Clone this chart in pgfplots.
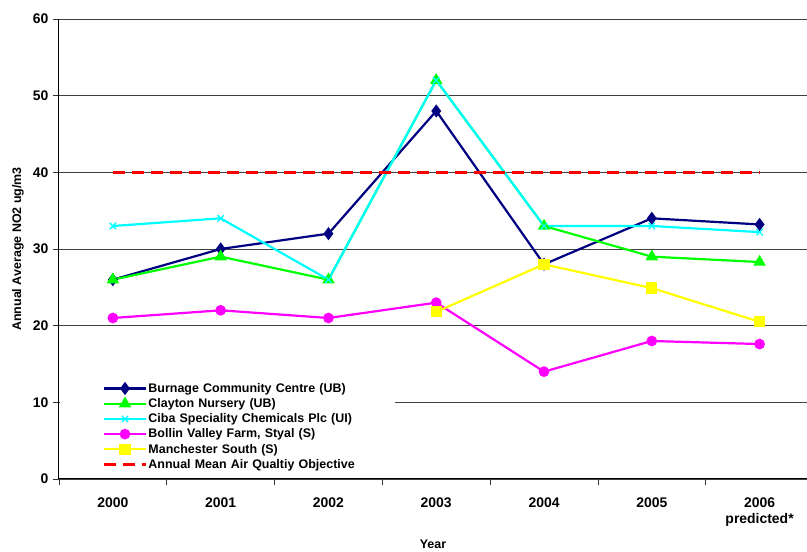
\documentclass[border=0pt]{standalone}
\usepackage{fontspec}
\setmainfont{Liberation Sans}
\usepackage{pgfplots}
\pgfplotsset{compat=1.18}
\definecolor{navyc}{RGB}{0,0,128}
\definecolor{greenc}{RGB}{0,255,0}
\definecolor{cyanc}{RGB}{0,255,255}
\definecolor{magc}{RGB}{255,0,255}
\definecolor{yelc}{RGB}{255,255,0}
\definecolor{redc}{RGB}{255,0,0}
\begin{document}
\begin{tikzpicture}
\begin{axis}[
  name=ax,
  scale only axis,
  width=748bp, height=460bp,
  xmin=-0.5, xmax=6.44,
  ymin=0, ymax=60,
  axis lines*=left,
  axis line style={black, line width=1bp},
  ytick={0,10,...,60},
  ymajorgrids,
  major grid style={black!75, line width=0.8bp},
  xtick={0,...,6},
  xticklabels={2000,2001,2002,2003,2004,2005,{2006\\predicted*}},
  xticklabel style={align=center, font=\bfseries\fontsize{14}{16.5}\selectfont, yshift=-9bp},
  yticklabel style={font=\bfseries\fontsize{14}{16}\selectfont, xshift=-1bp},
  /pgf/number format/assume math mode=true,
  minor xtick={-0.5,0.5,...,5.5},
  major x tick style={draw=none},
  minor x tick style={black!80, line width=0.8bp},
  major y tick style={black!80, line width=0.8bp},
  tick align=outside,
  major tick length=6bp,
  minor tick length=6bp,
  xlabel={Year},
  xlabel style={font=\bfseries\fontsize{12.5}{14}\selectfont, at={(axis description cs:0.5,0)}, anchor=base, inner sep=0pt, yshift=-70bp},
  ylabel={Annual Average NO2 ug/m3},
  ylabel style={font=\bfseries\fontsize{12.5}{14}\selectfont, at={(axis description cs:0,0.5)}, anchor=center, yshift=41bp},
  clip=false,
  legend cell align=left,
  legend style={at={(0,0)}, anchor=south west, draw=none, fill=white,
    font=\bfseries\fontsize{12.5}{14}\selectfont,
    inner xsep=0bp, inner ysep=3bp, row sep=0.7bp,
    nodes={inner xsep=1bp},
    text width=245bp, xshift=0.8bp, yshift=4bp},
  legend image code/.code={%
    \path[draw=none] (0bp,0) -- (86bp,0);
    \draw[mark repeat=2,mark phase=2] plot coordinates {(44bp,0cm)(65bp,0cm)(86bp,0cm)};},
]
\addplot[color=navyc, line width=2.2bp, mark=diamond*, mark size=4.8bp, mark options={solid, fill=navyc}]
  coordinates {(0,26)(1,30)(2,32)(3,48)(4,28)(5,34)(6,33.2)};
\addlegendentry{Burnage Community Centre (UB)}
\addplot[color=greenc, line width=2.2bp, mark=triangle*, mark size=5bp, mark options={solid, fill=greenc}]
  coordinates {(0,26)(1,29)(2,26)(3,52)(4,33)(5,29)(6,28.3)};
\addlegendentry{Clayton Nursery (UB)}
\addplot[color=cyanc, line width=2.2bp, mark=x, mark size=4.5bp, mark options={solid, line width=1.3bp}]
  coordinates {(0,33)(1,34)(2,26)(3,52)(4,33)(5,33)(6,32.2)};
\addlegendentry{Ciba Speciality Chemicals Plc (UI)}
\addplot[color=magc, line width=2.2bp, mark=*, mark size=4.2bp, mark options={solid, fill=magc}]
  coordinates {(0,21)(1,22)(2,21)(3,23)(4,14)(5,18)(6,17.6)};
\addlegendentry{Bollin Valley Farm, Styal (S)}
\addplot[color=yelc, line width=2.2bp, mark=square*, mark size=4.5bp, mark options={solid, fill=yelc}]
  coordinates {(3,21.8)(4,28)(5,24.9)(6,20.5)};
\addlegendentry{Manchester South (S)}
\addplot[color=redc, line width=3bp, dash pattern=on 12bp off 7bp, mark=none]
  coordinates {(0,40)(1,40)(2,40)(3,40)(4,40)(5,40)(6,40)};
\addlegendentry{Annual Mean Air Qualtiy Objective}
\end{axis}
\pgfresetboundingbox
\path ([xshift=-59bp,yshift=-73bp]ax.south west) rectangle ([yshift=19bp]ax.north east);
\end{tikzpicture}
\end{document}
